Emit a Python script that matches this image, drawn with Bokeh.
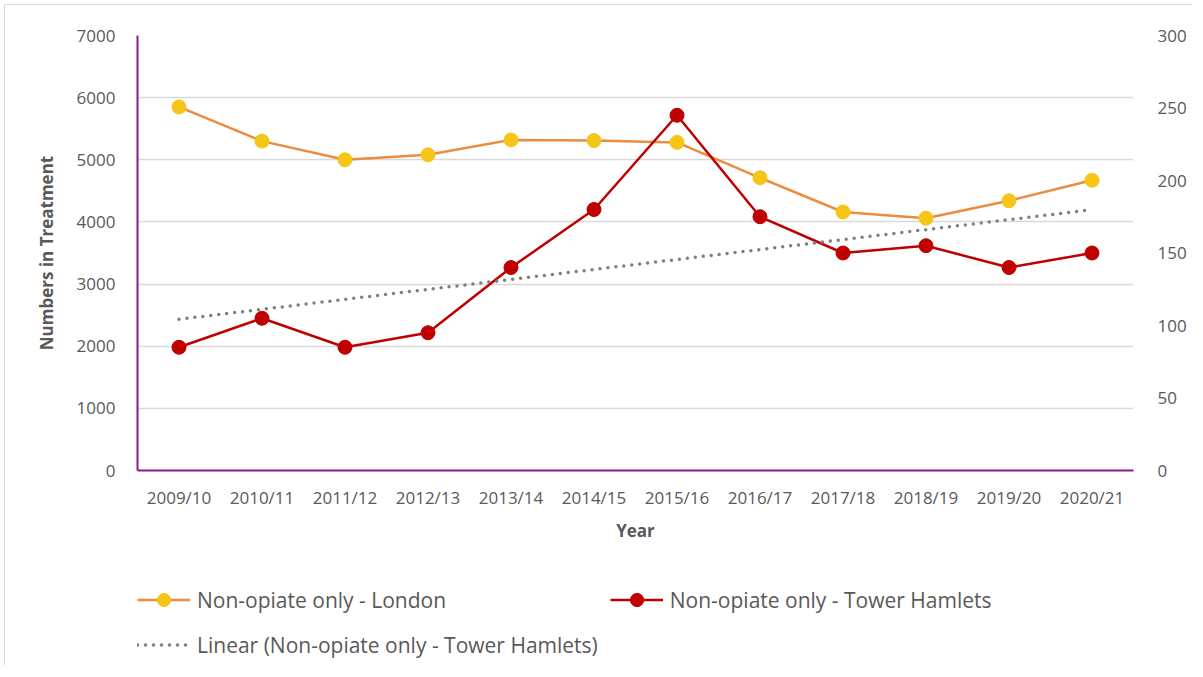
import numpy as np
from bokeh.plotting import figure
from bokeh.layouts import column
from bokeh.models import (Range1d, FactorRange, LinearAxis, FixedTicker, Legend,
                          LegendItem, ColumnDataSource)
from bokeh.embed import file_html
from bokeh.resources import INLINE

years = ["2009/10", "2010/11", "2011/12", "2012/13", "2013/14", "2014/15",
         "2015/16", "2016/17", "2017/18", "2018/19", "2019/20", "2020/21"]
london = [5850, 5300, 5000, 5080, 5320, 5310, 5280, 4710, 4160, 4060, 4340, 4670]
tower_hamlets = [85, 105, 85, 95, 140, 180, 245, 175, 150, 155, 140, 150]
left_ticks = [0, 1000, 2000, 3000, 4000, 5000, 6000, 7000]
right_ticks = [0, 50, 100, 150, 200, 250, 300]
legend_labels = ["Non-opiate only - London", "Non-opiate only - Tower Hamlets",
                 "Linear (Non-opiate only - Tower Hamlets)"]

FONT = "Open Sans"
TXT = "#595959"
PURPLE = "#8E1B86"
C_LON_LINE, C_LON_PT = "#ED8B3E", "#F5C518"
C_TH = "#C00000"
C_TREND = "#7F7F7F"

# Linear trendline (least squares) of the Tower Hamlets series, as in the source chart
idx = np.arange(len(years))
slope, intercept = np.polyfit(idx, np.array(tower_hamlets, dtype=float), 1)
trend = [intercept + slope * i for i in (idx[0], idx[-1])]

p = figure(x_range=FactorRange(*years, range_padding=0),
           y_range=Range1d(0, 7000),
           width=1187, output_backend="svg", toolbar_location=None,
           min_border_left=132, min_border_top=30, min_border_right=59,
           min_border_bottom=80,
           frame_width=996, frame_height=435)
p.extra_y_ranges = {"right": Range1d(0, 300)}
p.outline_line_color = None
p.background_fill_color = "white"
p.border_fill_color = "white"

# grid
p.xgrid.grid_line_color = None
p.ygrid.grid_line_color = "#d9d9d9"
p.ygrid.grid_line_width = 1.5

# left axis
ya = p.yaxis[0]
ya.ticker = FixedTicker(ticks=left_ticks)
ya.axis_label = "Numbers in Treatment"
ya.axis_label_text_font = FONT
ya.axis_label_text_font_style = "bold"
ya.axis_label_text_font_size = "17px"
ya.axis_label_text_color = TXT
ya.axis_label_standoff = 16
ya.major_label_text_font = FONT
ya.major_label_text_font_size = "17px"
ya.major_label_text_color = TXT
ya.major_label_standoff = 16
ya.axis_line_color = PURPLE
ya.axis_line_width = 2
ya.major_tick_line_color = None
ya.minor_tick_line_color = None

# right axis
ra = LinearAxis(y_range_name="right", ticker=FixedTicker(ticks=right_ticks))
ra.major_label_text_font = FONT
ra.major_label_text_font_size = "17px"
ra.major_label_text_color = TXT
ra.major_label_standoff = 18
ra.axis_line_color = None
ra.major_tick_line_color = None
ra.minor_tick_line_color = None
p.add_layout(ra, "right")

# x axis
xa = p.xaxis[0]
xa.axis_label = "Year"
xa.axis_label_text_font = FONT
xa.axis_label_text_font_style = "bold"
xa.axis_label_text_font_size = "17px"
xa.axis_label_text_color = TXT
xa.axis_label_standoff = 7
xa.major_label_text_font = FONT
xa.major_label_text_font_size = "17px"
xa.major_label_text_color = TXT
xa.major_label_standoff = 9
xa.axis_line_color = PURPLE
xa.axis_line_width = 2
xa.major_tick_line_color = None
xa.minor_tick_line_color = None

src = ColumnDataSource(dict(x=years, london=london, th=tower_hamlets))

p.line("x", "london", source=src, line_color=C_LON_LINE, line_width=2.5)
p.scatter("x", "london", source=src, size=14, fill_color=C_LON_PT, line_color=C_LON_PT)

p.line("x", "th", source=src, y_range_name="right", line_color=C_TH, line_width=2.5)
p.scatter("x", "th", source=src, y_range_name="right", size=14,
          fill_color=C_TH, line_color=C_TH)

p.line([years[0], years[-1]], trend, y_range_name="right", line_color=C_TREND,
       line_width=3.5, line_dash="0 8", line_cap="round")

# ---- legend strip (separate figure so the legend is never clipped) ----
lg = figure(width=1187, height=115, output_backend="svg", toolbar_location=None,
            x_axis_type=None, y_axis_type=None, x_range=Range1d(0, 1), y_range=Range1d(0, 1),
            min_border=0)
lg.outline_line_color = None
lg.background_fill_color = "white"
lg.border_fill_color = "white"

# hidden proxy renderers (one point outside the visible range) that supply legend glyph styles
proxy = ColumnDataSource(dict(x=[-10], y=[-10]))
g1l = lg.line("x", "y", source=proxy, line_color=C_LON_LINE, line_width=2.5)
g1p = lg.scatter("x", "y", source=proxy, size=13, fill_color=C_LON_PT, line_color=C_LON_PT)
g2l = lg.line("x", "y", source=proxy, line_color=C_TH, line_width=2.5)
g2p = lg.scatter("x", "y", source=proxy, size=13, fill_color=C_TH, line_color=C_TH)
g3 = lg.line("x", "y", source=proxy, line_color=C_TREND, line_width=3.5,
             line_dash="0 8", line_cap="round")

legend = Legend(items=[
    LegendItem(label=legend_labels[0], renderers=[g1l, g1p]),
    LegendItem(label=legend_labels[1], renderers=[g2l, g2p]),
    LegendItem(label=legend_labels[2], renderers=[g3]),
], location=(0, 4), orientation="horizontal", ncols=2)
legend.label_text_font = FONT
legend.label_text_font_size = "21px"
legend.label_text_color = TXT
legend.glyph_width = 53
legend.glyph_height = 33
legend.label_height = 33
legend.label_standoff = 7
legend.spacing = 12
legend.padding = 0
legend.margin = 0
legend.border_line_color = None
legend.background_fill_alpha = 0
lg.add_layout(legend, "center")

page = column(p, lg, spacing=0,
              styles={"margin-left": "4px", "margin-top": "4px",
                      "border-left": "1px solid #d9d9d9",
                      "border-top": "1px solid #d9d9d9"})

open("out.html", "w").write(file_html(page, INLINE))
